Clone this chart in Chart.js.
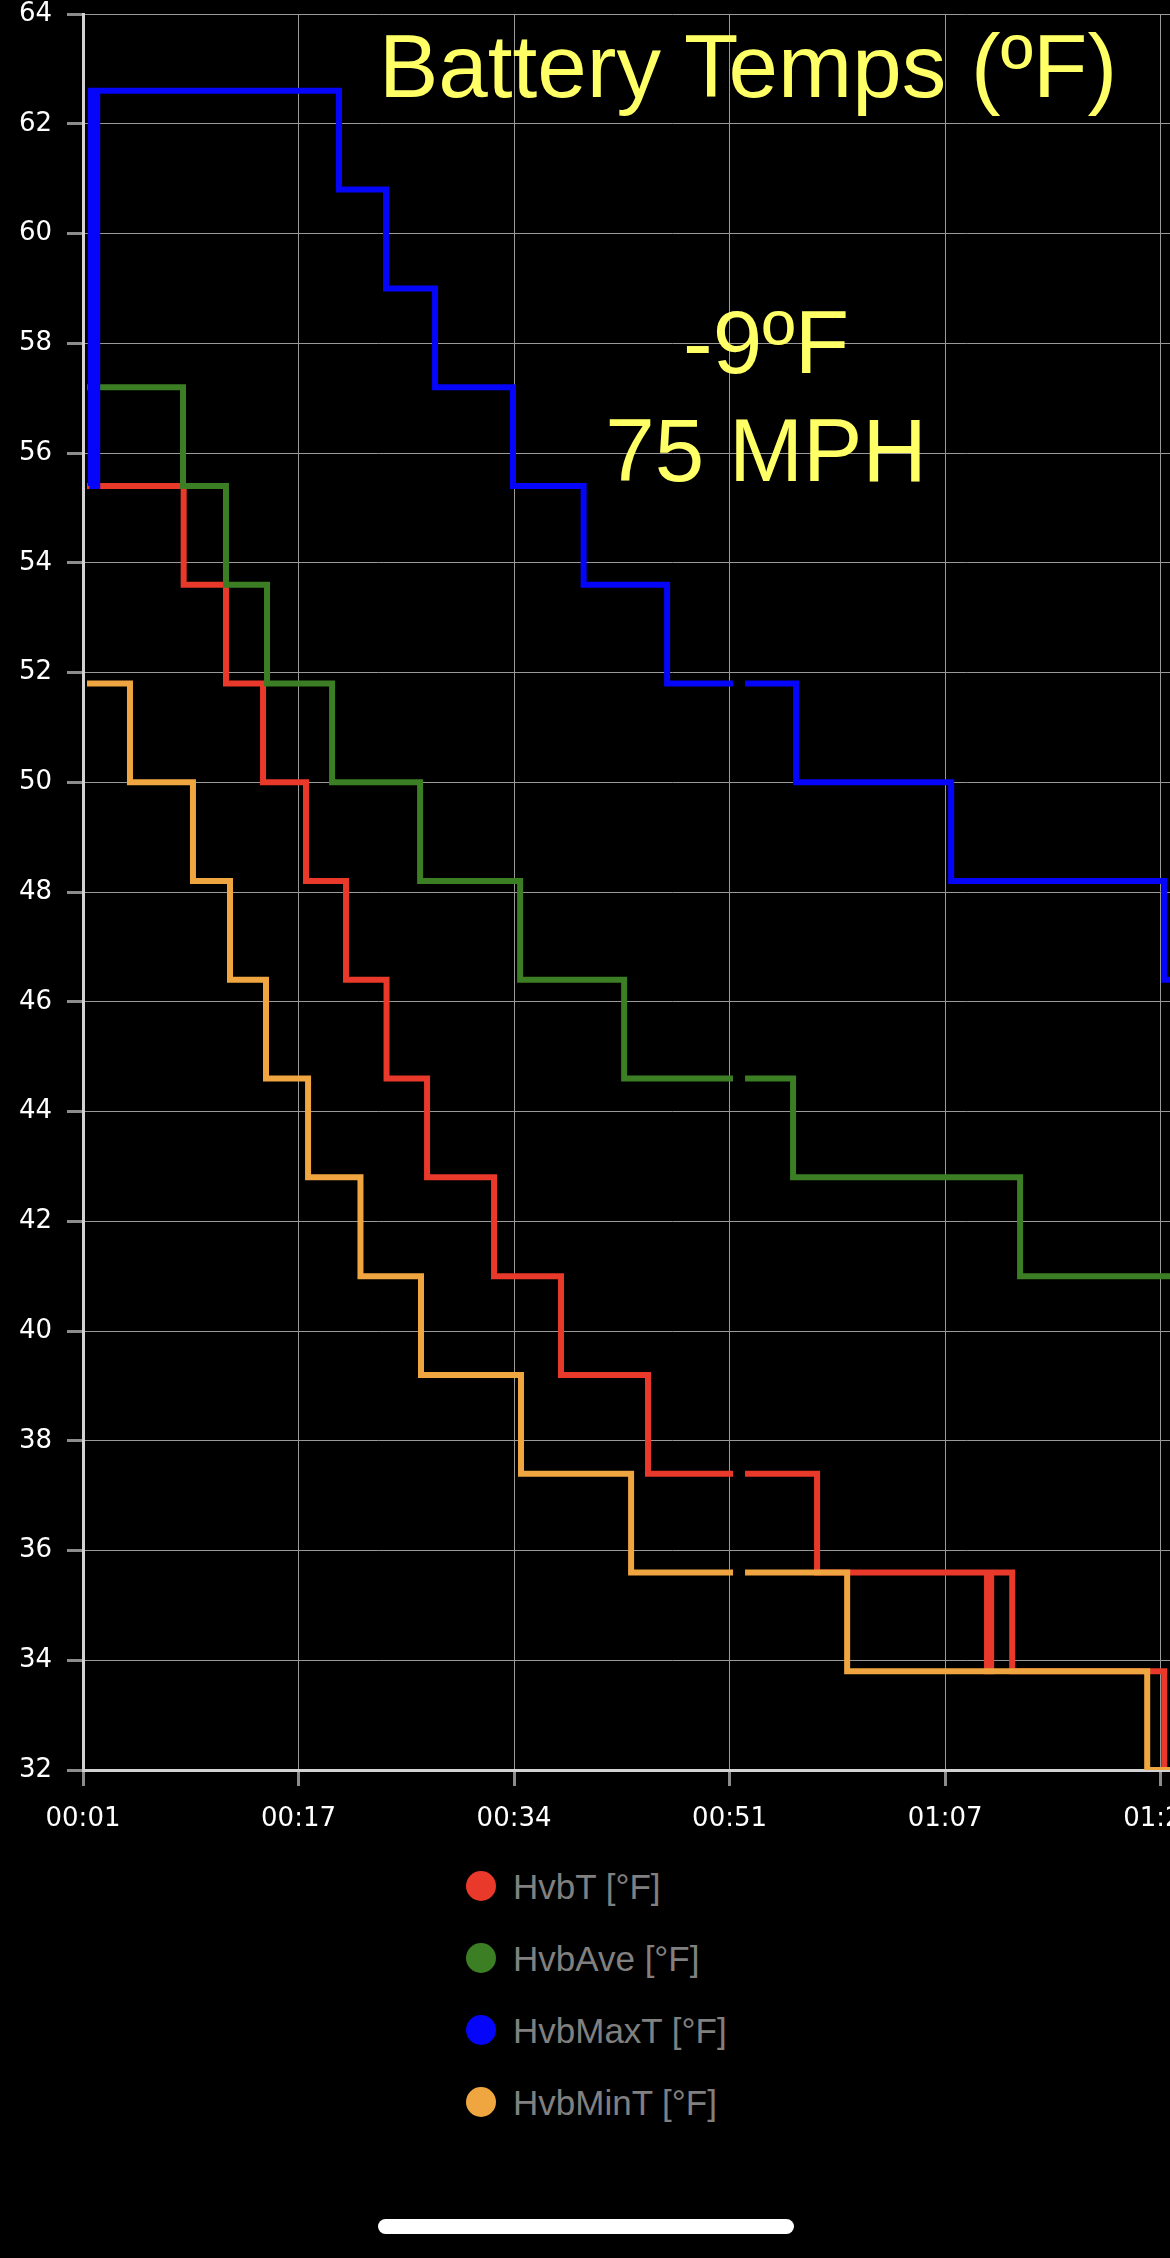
<!DOCTYPE html>
<html lang="en">
<head>
  <meta charset="UTF-8">
  <title>Battery Temps</title>
  <script src="https://cdn.jsdelivr.net/npm/chart.js@4.4.1/dist/chart.umd.min.js"></script>
  <style>
    html, body { margin: 0; padding: 0; background: #000; overflow: hidden; }
    #page { position: relative; width: 1170px; height: 2258px; overflow: hidden; background: #000; }
    #chartBox { position: absolute; left: 0; top: -1px; width: 1280px; height: 1853px; }
    .note { position: absolute; transform: translateX(-50%); white-space: nowrap;
            font-family: 'Liberation Sans', Arial, Helvetica, sans-serif; font-size: 89px;
            line-height: 89px; color: #ffff66; }
    #legend { position: absolute; left: 466px; top: 1868px; }
    .legend-item { position: absolute; left: 0; height: 36px; display: flex; align-items: center; white-space: nowrap; }
    .legend-item .dot { width: 30px; height: 30px; border-radius: 50%; margin-right: 17px; flex: none; }
    .legend-item .txt { font-family: 'Liberation Sans', Arial, sans-serif; font-size: 35px; line-height: 35px; color: #808080; }
    #homeBar { position: absolute; left: 378px; top: 2219px; width: 416px; height: 15px; border-radius: 8px; background: #fff; }
  </style>
</head>
<body>
<div id="page">
  <div id="chartBox"><canvas id="myChart"></canvas></div>
  <div class="note" style="left:748px; top:22px;">Battery Temps (ºF)</div>
  <div class="note" style="left:766px; top:298px;">-9ºF</div>
  <div class="note" style="left:766px; top:406px;">75 MPH</div>
  <div id="legend"></div>
  <div id="homeBar"></div>
</div>
<script>
// x in minutes since start, values in °F (null = gap in the log)
const hvbTTimes   = [1.31, 8.8, 12.08, 14.95, 18.28, 21.38, 24.52, 27.66, 32.85, 38.04, 44.78, 51.37, 51.8, 52.3, 57.88, 71.05, 71.37, 73.0, 84.78, 85.5];
const hvbTValues  = [55.4, 53.6, 51.8, 50, 48.2, 46.4, 44.6, 42.8, 41, 39.2, 37.4, 37.4, null, 37.4, 35.6, 33.8, 35.6, 33.8, 32, 32];

const hvbAveTimes  = [1.31, 8.75, 12.08, 15.26, 20.3, 27.12, 34.87, 42.93, 51.37, 51.8, 52.3, 56.02, 73.61, 85.5];
const hvbAveValues = [57.2, 55.4, 53.6, 51.8, 50, 48.2, 46.4, 44.6, 44.6, null, 44.6, 42.8, 41, 41];

const hvbMaxTimes  = [1.5, 1.6, 1.85, 2.1, 20.84, 24.48, 28.28, 34.32, 39.79, 46.26, 51.37, 51.8, 52.3, 56.25, 68.27, 84.78, 85.5];
const hvbMaxValues = [55.4, 62.6, 55.4, 62.6, 60.8, 59, 57.2, 55.4, 53.6, 51.8, 51.8, null, 51.8, 50, 48.2, 46.4, 46.4];

const hvbMinTimes  = [1.31, 4.64, 9.52, 12.39, 15.18, 18.44, 22.5, 27.19, 34.94, 43.47, 51.37, 51.8, 52.3, 60.21, 83.46, 85.5];
const hvbMinValues = [51.8, 50, 48.2, 46.4, 44.6, 42.8, 41, 39.2, 37.4, 35.6, 35.6, null, 35.6, 33.8, 32, 32];

const seriesNames  = ['HvbT [°F]', 'HvbAve [°F]', 'HvbMaxT [°F]', 'HvbMinT [°F]'];
const seriesColors = ['#e8392a', '#3c7e23', '#0505fa', '#f0a640'];

const xTickValues = [1, 17.7, 34.4, 51.1, 67.8, 84.5];
const xTickLabels = ['00:01', '00:17', '00:34', '00:51', '01:07', '01:24'];

function toPoints(ts, vs) {
  return ts.map((t, i) => ({ x: t, y: vs[i] }));
}

const allTimes  = [hvbTTimes, hvbAveTimes, hvbMaxTimes, hvbMinTimes];
const allValues = [hvbTValues, hvbAveValues, hvbMaxValues, hvbMinValues];
const drawOrder = [4, 3, 2, 1]; // min temp line sits on top of HvbT

const xFont = { family: 'DejaVu Sans', size: 26, lineHeight: 1 };
const yFont = { family: 'DejaVu Sans', size: 26, lineHeight: 0 }; // no extra top padding

const ctx = document.getElementById('myChart').getContext('2d');
const myChart = new Chart(ctx, {
  type: 'line',
  data: {
    datasets: seriesNames.map((name, i) => ({
      label: name,
      data: toPoints(allTimes[i], allValues[i]),
      borderColor: seriesColors[i],
      backgroundColor: seriesColors[i],
      borderWidth: 6,
      pointRadius: 0,
      stepped: true,
      spanGaps: false,
      fill: false,
      order: drawOrder[i]
    }))
  },
  options: {
    responsive: true,
    maintainAspectRatio: false,
    animation: false,
    layout: { padding: { top: 1, right: 20, left: 0, bottom: 0 } },
    plugins: {
      legend: { display: false },
      tooltip: { enabled: false }
    },
    scales: {
      x: {
        type: 'linear',
        min: 1,
        max: 92.2,
        afterBuildTicks: s => { s.ticks = xTickValues.map(v => ({ value: v })); },
        ticks: {
          color: '#ffffff',
          font: xFont,
          padding: 20,
          maxRotation: 0,
          autoSkip: false,
          callback: (v, i) => xTickLabels[i]
        },
        grid: { color: '#999999', lineWidth: 1, tickLength: 16, tickWidth: 3, tickColor: '#8c8c8c' },
        border: { color: '#d2d2d2', width: 3 }
      },
      y: {
        min: 32,
        max: 64,
        afterFit: s => { s.width = 83; },
        ticks: { stepSize: 2, color: '#ffffff', font: yFont, padding: 15 },
        grid: { color: '#999999', lineWidth: 1, tickLength: 16, tickWidth: 3, tickColor: '#8c8c8c' },
        border: { color: '#d2d2d2', width: 3 }
      }
    }
  }
});

// html legend, one item per line
const legendBox = document.getElementById('legend');
myChart.data.datasets.forEach((ds, i) => {
  const row = document.createElement('div');
  row.className = 'legend-item';
  row.style.top = (i * 72) + 'px';
  const dot = document.createElement('span');
  dot.className = 'dot';
  dot.style.background = ds.borderColor;
  const txt = document.createElement('span');
  txt.className = 'txt';
  txt.textContent = ds.label;
  row.appendChild(dot);
  row.appendChild(txt);
  legendBox.appendChild(row);
});
</script>
</body>
</html>
